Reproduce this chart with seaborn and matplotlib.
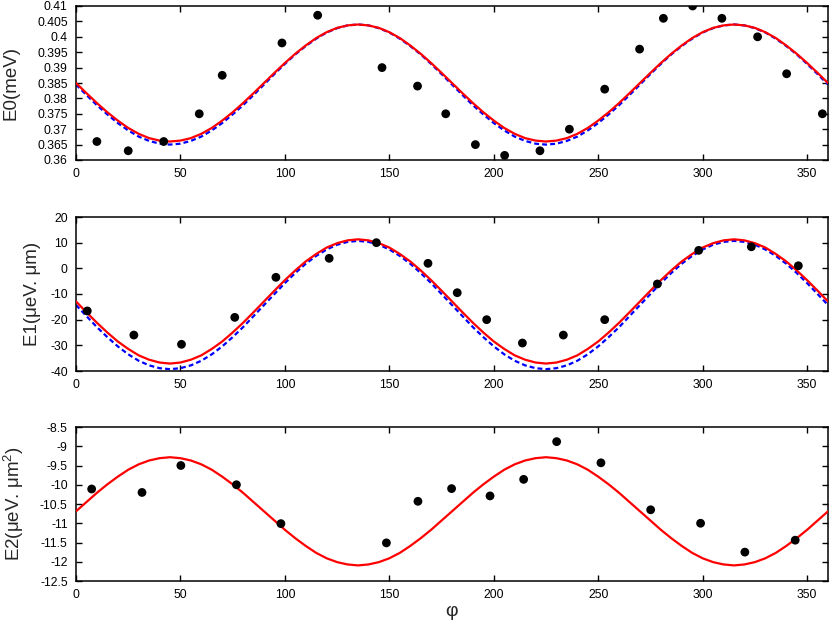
import numpy as np
import pandas as pd
import matplotlib
matplotlib.use("Agg")
import matplotlib.pyplot as plt
import seaborn as sns

# ---------------- data ----------------
# measured points
e0_phi = [10, 25, 42, 59, 70, 98.6, 115.7, 146.5, 163.5, 177, 191.2, 205.2, 222.1,
          236.2, 253.1, 269.8, 281.2, 295.2, 309.2, 326.3, 340.2, 357.3]
e0_val = [0.366, 0.363, 0.366, 0.375, 0.3875, 0.398, 0.407, 0.390, 0.384, 0.375, 0.365,
          0.3615, 0.363, 0.370, 0.383, 0.396, 0.406, 0.410, 0.406, 0.400, 0.388, 0.375]

e1_phi = [5.4, 27.7, 50.5, 76, 95.7, 121.2, 143.8, 168.5, 182.5, 196.6, 213.7, 233.3,
          253.1, 278.3, 298.1, 323.3, 345.8]
e1_val = [-16.6, -26.0, -29.6, -19.1, -3.5, 3.9, 10.0, 1.95, -9.5, -20.0, -29.1, -26.0,
          -20.0, -6.1, 7.0, 8.4, 1.0]

e2_phi = [7.5, 31.6, 50.2, 76.8, 98.1, 148.6, 163.7, 179.8, 198.2, 214.3, 230.1, 251.3,
          275.1, 299.0, 320.2, 344.3]
e2_val = [-10.11, -10.20, -9.50, -10.00, -11.01, -11.51, -10.43, -10.10, -10.29, -9.86,
          -8.88, -9.43, -10.65, -11.00, -11.75, -11.44]

# fitted curves, read every 5 degrees
curve_phi = list(range(0, 361, 5))

e0_fit_red = [0.3850, 0.3817, 0.3785, 0.3755, 0.3728, 0.3704, 0.3685, 0.3671, 0.3663, 0.3660,
              0.3663, 0.3671, 0.3685, 0.3704, 0.3728, 0.3755, 0.3785, 0.3817, 0.3850, 0.3883,
              0.3915, 0.3945, 0.3972, 0.3996, 0.4015, 0.4029, 0.4037, 0.4040, 0.4037, 0.4029,
              0.4015, 0.3996, 0.3972, 0.3945, 0.3915, 0.3883,
              0.3850, 0.3817, 0.3785, 0.3755, 0.3728, 0.3704, 0.3685, 0.3671, 0.3663, 0.3660,
              0.3663, 0.3671, 0.3685, 0.3704, 0.3728, 0.3755, 0.3785, 0.3817, 0.3850, 0.3883,
              0.3915, 0.3945, 0.3972, 0.3996, 0.4015, 0.4029, 0.4037, 0.4040, 0.4037, 0.4029,
              0.4015, 0.3996, 0.3972, 0.3945, 0.3915, 0.3883, 0.3850]
e0_fit_blue = [0.3845, 0.3811, 0.3778, 0.3748, 0.3720, 0.3696, 0.3676, 0.3662, 0.3653, 0.3650,
               0.3653, 0.3662, 0.3676, 0.3696, 0.3720, 0.3748, 0.3778, 0.3811, 0.3845, 0.3879,
               0.3912, 0.3943, 0.3970, 0.3994, 0.4014, 0.4028, 0.4037, 0.4040, 0.4037, 0.4028,
               0.4014, 0.3994, 0.3970, 0.3943, 0.3912, 0.3879,
               0.3845, 0.3811, 0.3778, 0.3748, 0.3720, 0.3696, 0.3676, 0.3662, 0.3653, 0.3650,
               0.3653, 0.3662, 0.3676, 0.3696, 0.3720, 0.3748, 0.3778, 0.3811, 0.3845, 0.3879,
               0.3912, 0.3943, 0.3970, 0.3994, 0.4014, 0.4028, 0.4037, 0.4040, 0.4037, 0.4028,
               0.4014, 0.3994, 0.3970, 0.3943, 0.3912, 0.3879, 0.3845]

e1_fit_red = [-12.9, -17.1, -21.2, -25.0, -28.5, -31.4, -33.9, -35.6, -36.7, -37.1,
              -36.7, -35.6, -33.9, -31.4, -28.5, -25.0, -21.2, -17.1, -12.9, -8.7,
              -4.6, -0.8, 2.7, 5.6, 8.1, 9.8, 10.9, 11.3, 10.9, 9.8,
              8.1, 5.6, 2.7, -0.8, -4.6, -8.7,
              -12.9, -17.1, -21.2, -25.0, -28.5, -31.4, -33.9, -35.6, -36.7, -37.1,
              -36.7, -35.6, -33.9, -31.4, -28.5, -25.0, -21.2, -17.1, -12.9, -8.7,
              -4.6, -0.8, 2.7, 5.6, 8.1, 9.8, 10.9, 11.3, 10.9, 9.8,
              8.1, 5.6, 2.7, -0.8, -4.6, -8.7, -12.9]
e1_fit_blue = [-14.3, -18.6, -22.9, -26.8, -30.4, -33.5, -36.0, -37.8, -38.9, -39.3,
               -38.9, -37.8, -36.0, -33.5, -30.4, -26.8, -22.9, -18.6, -14.3, -10.0,
               -5.75, -1.8, 1.8, 4.85, 7.35, 9.2, 10.3, 10.7, 10.3, 9.2,
               7.35, 4.85, 1.8, -1.8, -5.75, -10.0,
               -14.3, -18.6, -22.9, -26.8, -30.4, -33.5, -36.0, -37.8, -38.9, -39.3,
               -38.9, -37.8, -36.0, -33.5, -30.4, -26.8, -22.9, -18.6, -14.3, -10.0,
               -5.75, -1.8, 1.8, 4.85, 7.35, 9.2, 10.3, 10.7, 10.3, 9.2,
               7.35, 4.85, 1.8, -1.8, -5.75, -10.0, -14.3]

e2_fit_red = [-10.69, -10.45, -10.21, -9.99, -9.79, -9.61, -9.47, -9.37, -9.31, -9.285,
              -9.31, -9.37, -9.47, -9.61, -9.79, -9.99, -10.21, -10.45, -10.69, -10.93,
              -11.17, -11.39, -11.59, -11.77, -11.91, -12.01, -12.07, -12.095, -12.07, -12.01,
              -11.91, -11.77, -11.59, -11.39, -11.17, -10.93,
              -10.69, -10.45, -10.21, -9.99, -9.79, -9.61, -9.47, -9.37, -9.31, -9.285,
              -9.31, -9.37, -9.47, -9.61, -9.79, -9.99, -10.21, -10.45, -10.69, -10.93,
              -11.17, -11.39, -11.59, -11.77, -11.91, -12.01, -12.07, -12.095, -12.07, -12.01,
              -11.91, -11.77, -11.59, -11.39, -11.17, -10.93, -10.69]

x_ticks = [0, 50, 100, 150, 200, 250, 300, 350]
e0_ticks = [0.36, 0.365, 0.37, 0.375, 0.38, 0.385, 0.39, 0.395, 0.4, 0.405, 0.41]
e1_ticks = [-40, -30, -20, -10, 0, 10, 20]
e2_ticks = [-12.5, -12, -11.5, -11, -10.5, -10, -9.5, -9, -8.5]

# ---------------- style ----------------
sns.set_theme(style="ticks")
plt.rcParams["font.family"] = ["Liberation Sans", "DejaVu Sans"]
plt.rcParams["mathtext.default"] = "regular"
plt.rcParams["axes.unicode_minus"] = False
plt.rcParams["xtick.direction"] = "in"
plt.rcParams["ytick.direction"] = "in"

fig = plt.figure(figsize=(8.32, 6.32), dpi=100)
W, H = 832, 632
def add_ax(top, bottom, left=76, right=828):
    return fig.add_axes([left / W, 1 - bottom / H, (right - left) / W, (bottom - top) / H])

ax1 = add_ax(6, 160)
ax2 = add_ax(217, 371)
ax3 = add_ax(427, 581)

def style(ax, yticks, ylab, labx):
    ax.set_xlim(0, 360)
    ax.set_ylim(yticks[0], yticks[-1])
    ax.set_xticks(x_ticks)
    ax.set_yticks(yticks)
    ax.set_yticklabels(["%g" % t for t in yticks])
    ax.tick_params(axis="both", which="both", direction="in", length=4.5, width=1.0,
                   top=True, right=True, labelsize=8.8, colors="black", pad=6)
    for s in ax.spines.values():
        s.set_visible(True)
        s.set_linewidth(1.1)
        s.set_color("black")
    ax.set_xlabel("")
    ax.set_ylabel(ylab, fontsize=13.5)
    ax.yaxis.set_label_coords(labx, 0.5)
    ax.grid(False)

df_curve = pd.DataFrame({"phi": curve_phi, "e0r": e0_fit_red, "e0b": e0_fit_blue,
                         "e1r": e1_fit_red, "e1b": e1_fit_blue, "e2r": e2_fit_red})

# panel 1
sns.lineplot(data=df_curve, x="phi", y="e0b", ax=ax1, color="#0000ff", lw=1.6,
             linestyle=(0, (2.2, 1.4)), zorder=2)
sns.lineplot(data=df_curve, x="phi", y="e0r", ax=ax1, color="#ff0000", lw=1.6, zorder=3)
sns.scatterplot(x=e0_phi, y=e0_val, ax=ax1, color="black", s=40, edgecolor="none", zorder=4)
style(ax1, e0_ticks, "E0(meV)", -0.075)

# panel 2
sns.lineplot(data=df_curve, x="phi", y="e1b", ax=ax2, color="#0000ff", lw=1.6,
             linestyle=(0, (2.2, 1.4)), zorder=2)
sns.lineplot(data=df_curve, x="phi", y="e1r", ax=ax2, color="#ff0000", lw=1.6, zorder=3)
sns.scatterplot(x=e1_phi, y=e1_val, ax=ax2, color="black", s=40, edgecolor="none", zorder=4)
style(ax2, e1_ticks, "E1(μeV. μm)", -0.046)

# panel 3
sns.lineplot(data=df_curve, x="phi", y="e2r", ax=ax3, color="#ff0000", lw=1.6, zorder=3)
sns.scatterplot(x=e2_phi, y=e2_val, ax=ax3, color="black", s=40, edgecolor="none", zorder=4)
style(ax3, e2_ticks, "E2(μeV. μm$^2$)", -0.066)

fig.text(452 / W, 1 - 612 / H, "φ", fontsize=14, ha="center", va="center")

fig.savefig("out.png", dpi=100)
